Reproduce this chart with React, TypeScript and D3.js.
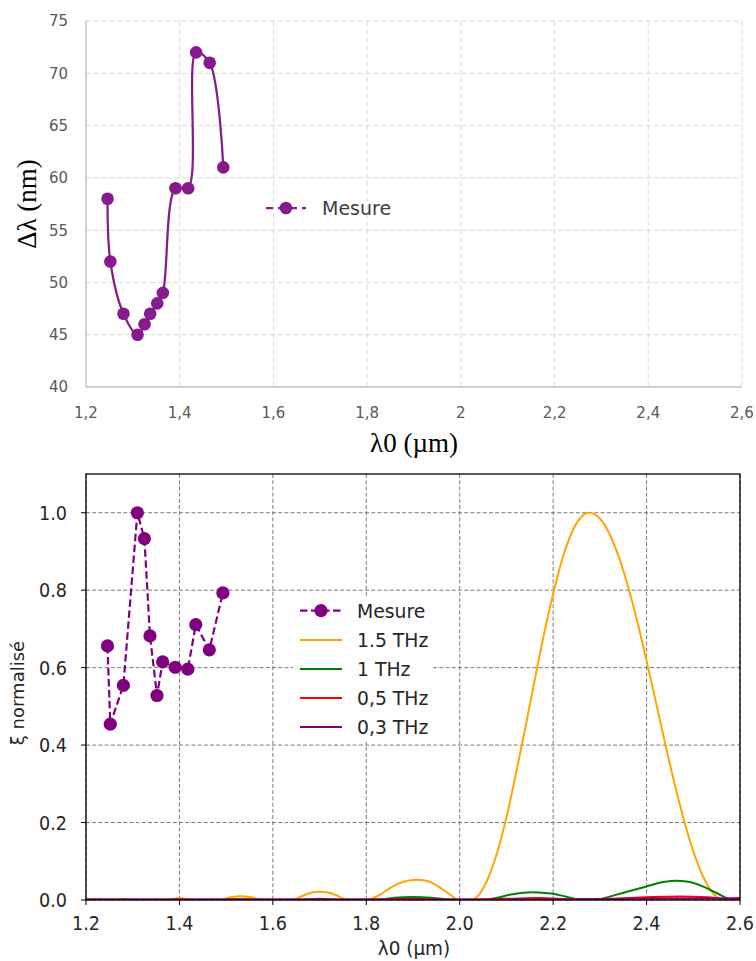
import React from 'react';
import * as d3 from 'd3';

// ---------- DATA ----------
const lambdaPts = [1.246, 1.252, 1.280, 1.310, 1.325, 1.337, 1.352, 1.364, 1.391, 1.418, 1.435, 1.464, 1.493];
const deltaLambda = [58, 52, 47, 45, 46, 47, 48, 49, 59, 59, 72, 71, 61];
const xiMesure = [0.656, 0.454, 0.554, 1.0, 0.933, 0.682, 0.528, 0.615, 0.601, 0.596, 0.711, 0.646, 0.793];

const topXTicks = [1.2, 1.4, 1.6, 1.8, 2.0, 2.2, 2.4, 2.6];
const topXLabels = ['1,2', '1,4', '1,6', '1,8', '2', '2,2', '2,4', '2,6'];
const topYTicks = [40, 45, 50, 55, 60, 65, 70, 75];

const botXTicks = [1.2, 1.4, 1.6, 1.8, 2.0, 2.2, 2.4, 2.6];
const botXLabels = ['1.2', '1.4', '1.6', '1.8', '2.0', '2.2', '2.4', '2.6'];
const botYTicks = [0, 0.2, 0.4, 0.6, 0.8, 1.0];
const botYLabels = ['0.0', '0.2', '0.4', '0.6', '0.8', '1.0'];

const thz15: [number, number][] = [
  [1.20, 0.001], [1.26, 0], [1.28, 0.003], [1.30, 0], [1.375, 0], [1.40, 0.005], [1.425, 0],
  [1.487, 0], [1.51, 0.007], [1.53, 0.010], [1.55, 0.008], [1.577, 0],
  [1.643, 0], [1.66, 0.009], [1.68, 0.018], [1.70, 0.021], [1.72, 0.019], [1.74, 0.010], [1.758, 0],
  [1.80, 0], [1.83, 0.014], [1.85, 0.030], [1.87, 0.043], [1.89, 0.050], [1.91, 0.052], [1.93, 0.049],
  [1.95, 0.038], [1.97, 0.022], [1.985, 0.009], [1.995, 0],
  [2.02, 0], [2.03, 0.002], [2.04, 0.012], [2.06, 0.054], [2.08, 0.122], [2.10, 0.213], [2.12, 0.324],
  [2.14, 0.442], [2.16, 0.565], [2.18, 0.684], [2.20, 0.791], [2.22, 0.882], [2.24, 0.949], [2.26, 0.989],
  [2.277, 1.0], [2.30, 0.985], [2.32, 0.947], [2.34, 0.888], [2.36, 0.811], [2.38, 0.720], [2.40, 0.618],
  [2.42, 0.511], [2.44, 0.403], [2.46, 0.300], [2.48, 0.206], [2.50, 0.126], [2.52, 0.063], [2.54, 0.021],
  [2.56, 0.002], [2.575, 0], [2.60, 0.002],
];
const thz1: [number, number][] = [
  [1.20, 0], [1.50, 0], [1.53, 0.002], [1.56, 0], [1.65, 0], [1.70, 0.003], [1.75, 0],
  [1.82, 0], [1.86, 0.006], [1.90, 0.008], [1.94, 0.006], [1.99, 0],
  [2.05, 0], [2.08, 0.006], [2.11, 0.014], [2.155, 0.020], [2.20, 0.016], [2.23, 0.008], [2.26, 0.001],
  [2.29, 0.001], [2.31, 0.005], [2.33, 0.012], [2.36, 0.022], [2.40, 0.035], [2.43, 0.045], [2.46, 0.050],
  [2.49, 0.047], [2.52, 0.035], [2.55, 0.018], [2.58, 0.002], [2.60, 0.001],
];
const thz05: [number, number][] = [
  [1.20, 0.001], [1.80, 0.001], [1.90, 0.003], [2.00, 0.001], [2.10, 0.003], [2.17, 0.005], [2.25, 0.002],
  [2.32, 0.003], [2.40, 0.007], [2.47, 0.009], [2.53, 0.007], [2.58, 0.002], [2.60, 0.002],
];
const thz03: [number, number][] = [
  [1.20, 0.001], [2.00, 0.001], [2.30, 0.002], [2.45, 0.004], [2.55, 0.004], [2.60, 0.005],
];

const seriesNames = ['Mesure', '1.5 THz', '1 THz', '0,5 THz', '0,3 THz'];
const seriesColors = ['#800080', '#FFA500', '#008000', '#FF0000', '#800080'];

// ---------- COMPONENT ----------
export default function App() {
  const W = 756, H = 961;
  // top chart
  const tx = d3.scaleLinear().domain([1.2, 2.6]).range([86, 742]);
  const ty = d3.scaleLinear().domain([40, 75]).range([387, 21]);
  // bottom chart
  const bx = d3.scaleLinear().domain([1.2, 2.6]).range([86, 740]);
  const by = d3.scaleLinear().domain([0, 1.1]).range([900, 474]);

  const topColor = '#871A8C';
  const topLine = d3.line<number>()
    .x((_, i) => tx(lambdaPts[i]))
    .y((d) => ty(d))
    .curve(d3.curveCatmullRom.alpha(0.5));

  const botMesLine = d3.line<number>()
    .x((_, i) => bx(lambdaPts[i]))
    .y((d) => by(d));

  const curveLine = d3.line<[number, number]>()
    .x((d) => bx(d[0]))
    .y((d) => by(d[1]))
    .curve(d3.curveMonotoneX);

  const curves = [thz15, thz1, thz05, thz03];

  const sansFont = 'DejaVu Sans, sans-serif';
  const serifFont = 'Liberation Serif, Times New Roman, serif';

  const legendY = [610.7, 640, 669, 698, 727];

  return (
    <svg width={W} height={H} style={{ position: 'absolute', left: 0, top: 0, background: '#fff' }}>
      <rect x={0} y={0} width={W} height={H} fill="#fff" />
      {/* ===== TOP CHART ===== */}
      <g>
        {topYTicks.filter((t) => t !== 40).map((t) => (
          <line key={'tyg' + t} x1={86} x2={742} y1={ty(t)} y2={ty(t)} stroke="#d9d9d9" strokeWidth={1} strokeDasharray="5,3" />
        ))}
        {topXTicks.filter((t) => t !== 1.2).map((t) => (
          <line key={'txg' + t} x1={tx(t)} x2={tx(t)} y1={21} y2={387} stroke="#d9d9d9" strokeWidth={1} strokeDasharray="5,3" />
        ))}
        <line x1={86} x2={86} y1={21} y2={387} stroke="#bfbfbf" strokeWidth={1.5} />
        <line x1={86} x2={742} y1={387} y2={387} stroke="#bfbfbf" strokeWidth={1.5} />
        {topYTicks.map((t) => (
          <text key={'tyl' + t} x={68} y={ty(t)} dy="0.36em" textAnchor="end" fontFamily={sansFont} fontSize={15} fill="#595959">{t}</text>
        ))}
        {topXTicks.map((t, i) => (
          <text key={'txl' + t} x={tx(t)} y={418} textAnchor="middle" fontFamily={sansFont} fontSize={15} fill="#595959">{topXLabels[i]}</text>
        ))}
        <path d={topLine(deltaLambda) || ''} fill="none" stroke={topColor} strokeWidth={2.25} />
        {deltaLambda.map((v, i) => (
          <circle key={'tm' + i} cx={tx(lambdaPts[i])} cy={ty(v)} r={6.3} fill={topColor} />
        ))}
        {/* legend */}
        <line x1={266} x2={306} y1={208} y2={208} stroke={topColor} strokeWidth={2.25} strokeDasharray="7,5" />
        <circle cx={286} cy={208} r={6.3} fill={topColor} />
        <text x={322} y={208} dy="0.36em" fontFamily={sansFont} fontSize={19} fill="#404040">Mesure</text>
        {/* titles */}
        <text x={414} y={452} textAnchor="middle" fontFamily={serifFont} fontSize={27} fill="#000">λ0 (µm)</text>
        <text transform="translate(36,204) rotate(-90)" textAnchor="middle" fontFamily={serifFont} fontSize={27} fill="#000">Δλ (nm)</text>
      </g>

      {/* ===== BOTTOM CHART ===== */}
      <defs>
        <clipPath id="botClip">
          <rect x={86} y={474} width={654} height={426} />
        </clipPath>
      </defs>
      <g>
        {botYTicks.map((t) => (
          <line key={'byg' + t} x1={86} x2={740} y1={by(t)} y2={by(t)} stroke="#7a7a7a" strokeWidth={1} strokeDasharray="4,2.2" />
        ))}
        {botXTicks.map((t) => (
          <line key={'bxg' + t} x1={bx(t)} x2={bx(t)} y1={474} y2={900} stroke="#7a7a7a" strokeWidth={1} strokeDasharray="4,2.2" />
        ))}
        <g clipPath="url(#botClip)">
          {curves.map((c, i) => (
            <path key={'cv' + i} d={curveLine(c) || ''} fill="none" stroke={seriesColors[i + 1]} strokeWidth={2} />
          ))}
        </g>
        <path d={botMesLine(xiMesure) || ''} fill="none" stroke="#800080" strokeWidth={2.2} strokeDasharray="7.5,3.5" />
        {xiMesure.map((v, i) => (
          <circle key={'bm' + i} cx={bx(lambdaPts[i])} cy={by(v)} r={6.6} fill="#800080" />
        ))}
        {/* frame */}
        <rect x={86} y={474} width={654} height={426} fill="none" stroke="#000" strokeWidth={1.3} />
        {botXTicks.map((t, i) => (
          <g key={'bxt' + t}>
            <line x1={bx(t)} x2={bx(t)} y1={900} y2={905} stroke="#000" strokeWidth={1} />
            <text transform={`translate(${bx(t)},930) scale(0.88,1)`} textAnchor="middle" fontFamily={sansFont} fontSize={20} fill="#262626">{botXLabels[i]}</text>
          </g>
        ))}
        {botYTicks.map((t, i) => (
          <g key={'byt' + t}>
            <line x1={81} x2={86} y1={by(t)} y2={by(t)} stroke="#000" strokeWidth={1} />
            <text transform={`translate(67,${by(t)}) scale(0.88,1)`} dy="0.36em" textAnchor="end" fontFamily={sansFont} fontSize={20} fill="#262626">{botYLabels[i]}</text>
          </g>
        ))}
        {/* legend */}
        <rect x={293} y={596} width={140} height={146} fill="#fff" />
        {seriesNames.map((name, i) => (
          <g key={'lg' + i}>
            {i === 0 ? (
              <>
                <line x1={300} x2={342} y1={legendY[i]} y2={legendY[i]} stroke={seriesColors[i]} strokeWidth={2.2} strokeDasharray="7.5,3.5" />
                <circle cx={321} cy={legendY[i]} r={6.6} fill={seriesColors[i]} />
              </>
            ) : (
              <line x1={300} x2={342} y1={legendY[i]} y2={legendY[i]} stroke={seriesColors[i]} strokeWidth={2} />
            )}
            <text transform={`translate(357,${legendY[i]}) scale(0.94,1)`} dy="0.36em" fontFamily={sansFont} fontSize={20} fill="#262626">{name}</text>
          </g>
        ))}
        {/* axis titles */}
        <text transform="translate(414,955) scale(0.92,1)" textAnchor="middle" fontFamily={sansFont} fontSize={20} fill="#262626">λ0 (µm)</text>
        <text transform="translate(24,693) rotate(-90)" textAnchor="middle" fontFamily={sansFont} fontSize={18} fill="#262626">ξ normalisé</text>
      </g>
    </svg>
  );
}
